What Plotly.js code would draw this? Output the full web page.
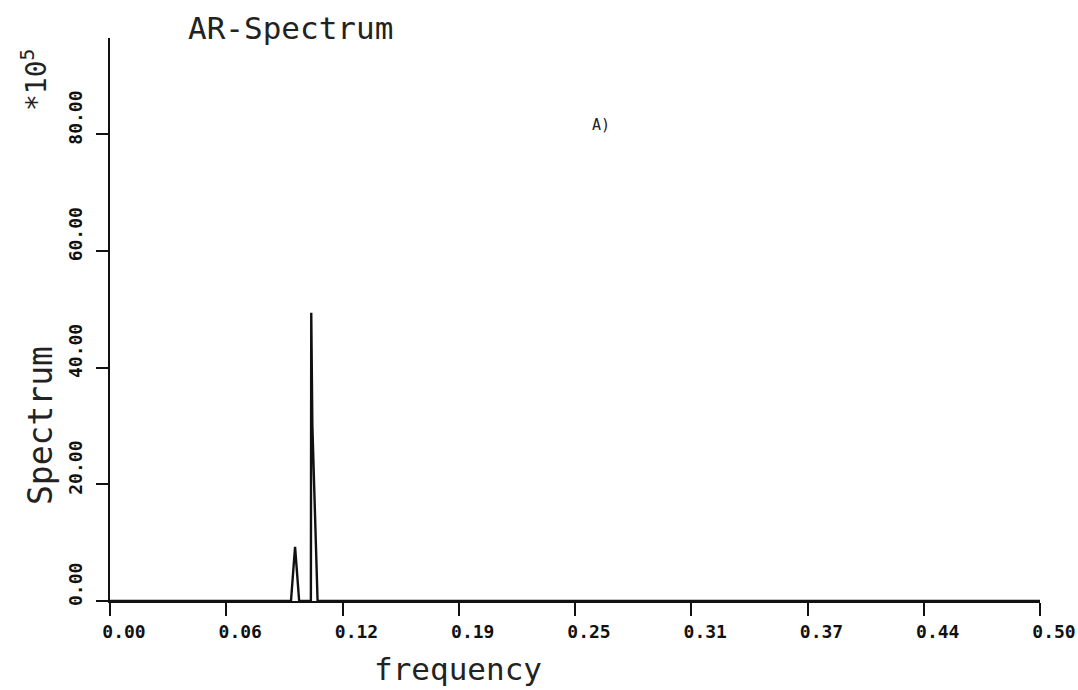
<!DOCTYPE html>
<html>
<head>
<meta charset="utf-8">
<script src="https://cdn.plot.ly/plotly-3.0.1.min.js"></script>
<style>
  html, body { margin: 0; padding: 0; background: #ffffff; }
  #chart { width: 1078px; height: 690px; }
</style>
</head>
<body>
<div id="chart"></div>
<script>
// Data (spectrum in units of 10^5)
const frequency = [0.0, 0.0973, 0.0995, 0.1017, 0.1080, 0.1082, 0.1088, 0.1116, 0.5];
const spectrum  = [0.0, 0.0,    9.3,    0.0,    0.0,    49.4,   30.1,   0.0,    0.0];

const xTickVals  = [0.0, 0.0625, 0.125, 0.1875, 0.25, 0.3125, 0.375, 0.4375, 0.5];
const xTickText  = ['0.00', '0.06', '0.12', '0.19', '0.25', '0.31', '0.37', '0.44', '0.50'];
const yTickVals  = [0, 20, 40, 60, 80];
const yTickText  = ['0.00', '20.00', '40.00', '60.00', '80.00'];

const titleText  = 'AR-Spectrum';
const xTitle     = 'frequency';
const yTitle     = 'Spectrum';
const scaleText  = '*10<sup>5</sup>';
const panelLabel = 'A)';

const FONT = 'DejaVu Sans Mono, Liberation Mono, monospace';
const W = 1078, H = 690;
const m = { l: 110, r: 38, t: 38, b: 89 };

const trace = {
  x: frequency,
  y: spectrum,
  type: 'scatter',
  mode: 'lines',
  line: { color: '#111111', width: 2.4 },
  hoverinfo: 'skip',
  cliponaxis: false
};

const layout = {
  width: W, height: H,
  margin: m,
  paper_bgcolor: '#ffffff',
  plot_bgcolor: '#ffffff',
  showlegend: false,
  font: { family: FONT, color: '#111111' },
  title: {
    text: titleText,
    xref: 'container', yref: 'container',
    x: 188 / W, xanchor: 'left',
    y: 1 - 28 / H, yanchor: 'middle',
    font: { family: FONT, size: 31, color: '#222222' }
  },
  xaxis: {
    range: [0, 0.5],
    tickmode: 'array',
    tickvals: xTickVals,
    ticktext: xTickText,
    showgrid: false, zeroline: false,
    showline: true, linecolor: '#111111', linewidth: 2,
    ticks: 'outside', ticklen: 13, tickwidth: 2, tickcolor: '#111111',
    ticklabelshift: 14,
    ticklabelstandoff: 0,
    tickfont: { family: FONT, size: 18, color: '#111111', weight: 'bold' },
    fixedrange: true
  },
  yaxis: {
    range: [0, 96.5],
    tickmode: 'array',
    tickvals: yTickVals,
    ticktext: yTickText,
    tickangle: -90,
    showgrid: false, zeroline: false,
    showline: true, linecolor: '#111111', linewidth: 2,
    ticks: 'outside', ticklen: 12, tickwidth: 2, tickcolor: '#111111',
    ticklabelshift: -14,
    ticklabelstandoff: 7,
    tickfont: { family: FONT, size: 18, color: '#111111', weight: 'bold' },
    fixedrange: true
  },
  annotations: [
    {
      text: xTitle, xref: 'paper', yref: 'paper',
      x: (458 - m.l) / (W - m.l - m.r), y: -(669 - (H - m.b)) / (H - m.t - m.b),
      xanchor: 'center', yanchor: 'middle', showarrow: false,
      font: { family: FONT, size: 31, color: '#222222' }
    },
    {
      text: yTitle, xref: 'paper', yref: 'paper',
      x: -(m.l - 40) / (W - m.l - m.r), y: ((H - m.b) - 426) / (H - m.t - m.b),
      xanchor: 'center', yanchor: 'middle', textangle: -90, showarrow: false,
      font: { family: FONT, size: 33, color: '#222222' }
    },
    {
      text: scaleText, xref: 'paper', yref: 'paper',
      x: -(m.l - 35) / (W - m.l - m.r), y: ((H - m.b) - 80) / (H - m.t - m.b),
      xanchor: 'center', yanchor: 'middle', textangle: -90, showarrow: false,
      font: { family: FONT, size: 28, color: '#222222' }
    },
    {
      text: panelLabel, xref: 'paper', yref: 'paper',
      x: (601 - m.l) / (W - m.l - m.r), y: ((H - m.b) - 125) / (H - m.t - m.b),
      xanchor: 'center', yanchor: 'middle', showarrow: false,
      font: { family: FONT, size: 15, color: '#222222' }
    }
  ]
};

Plotly.newPlot('chart', [trace], layout, { displayModeBar: false, staticPlot: true });
</script>
</body>
</html>
